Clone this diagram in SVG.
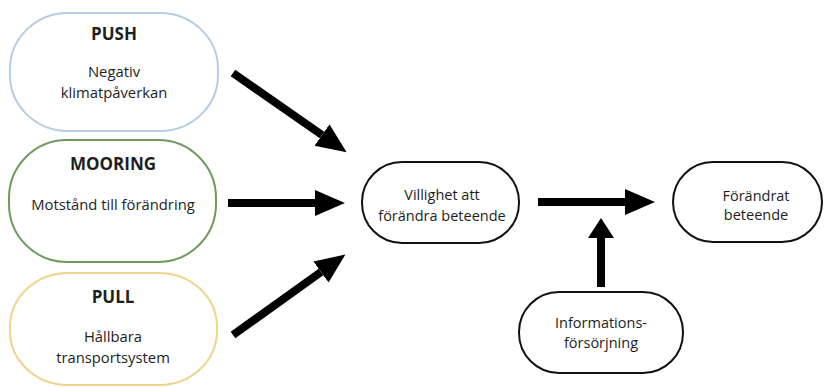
<svg xmlns="http://www.w3.org/2000/svg" width="831" height="387" viewBox="0 0 831 387">
<defs>
<style>
text{font-family:"Open Sans","Noto Sans","Liberation Sans",sans-serif;fill:#1e1e1e;text-anchor:middle;font-size:14.8px}
.t{font-weight:bold;font-size:17px}
.r{font-size:14.5px}
.n{fill:#fff;stroke-width:2}
.b{stroke:#111;stroke-width:2}
.c{stroke:#000;stroke-width:8;fill:none}
</style>
<marker id="ah" markerUnits="userSpaceOnUse" markerWidth="32" markerHeight="28" refX="0" refY="13" orient="auto" viewBox="0 0 32 28">
<path d="M0,0 L30,13 L0,26 z" fill="#000"/>
</marker>
<marker id="as" markerUnits="userSpaceOnUse" markerWidth="22" markerHeight="28" refX="0" refY="13" orient="auto" viewBox="0 0 22 28">
<path d="M0,0 L20,13 L0,26 z" fill="#000"/>
</marker>
</defs>
<rect width="831" height="387" fill="#fff"/>
<g id="push">
<rect class="n" x="10" y="13" width="208" height="118" rx="58" ry="56" stroke="#b5cde4"/>
<text class="t" x="114" y="40">PUSH</text>
<text x="114" y="77">Negativ</text>
<text x="114" y="98">klimatpåverkan</text>
</g>
<g id="mooring">
<rect class="n" x="9" y="140" width="207" height="122" rx="58" ry="58" stroke="#6e9a5c"/>
<text class="t" x="113" y="170">MOORING</text>
<text x="113" y="210">Motstånd till förändring</text>
</g>
<g id="pull">
<rect class="n" x="10" y="273" width="207" height="112" rx="58" ry="54" stroke="#f0d48e"/>
<text class="t" x="113" y="303">PULL</text>
<text x="113" y="342">Hållbara</text>
<text x="113" y="363">transportsystem</text>
</g>
<g id="villighet">
<rect class="n b" x="362" y="162" width="157" height="81" rx="40" ry="40"/>
<text class="r" x="442" y="200">Villighet att</text>
<text class="r" x="442" y="221">förändra beteende</text>
</g>
<g id="forandrat">
<rect class="n b" x="673" y="162" width="149" height="80" rx="40" ry="40"/>
<text class="r" x="756" y="201">Förändrat</text>
<text class="r" x="756" y="220">beteende</text>
</g>
<g id="information">
<rect class="n b" x="519" y="292" width="164" height="81" rx="40" ry="40"/>
<text class="r" x="601" y="328">Informations-</text>
<text class="r" x="601" y="348">försörjning</text>
</g>
<g id="connectors">
<line class="c" x1="233" y1="73" x2="322" y2="135" marker-end="url(#ah)"/>
<line class="c" x1="228" y1="203" x2="315" y2="203" marker-end="url(#ah)"/>
<line class="c" x1="233" y1="335" x2="321" y2="272" marker-end="url(#ah)"/>
<line class="c" x1="538" y1="202" x2="625" y2="202" marker-end="url(#ah)"/>
<line class="c" x1="601" y1="287" x2="601" y2="238" marker-end="url(#as)"/>
</g>
</svg>
